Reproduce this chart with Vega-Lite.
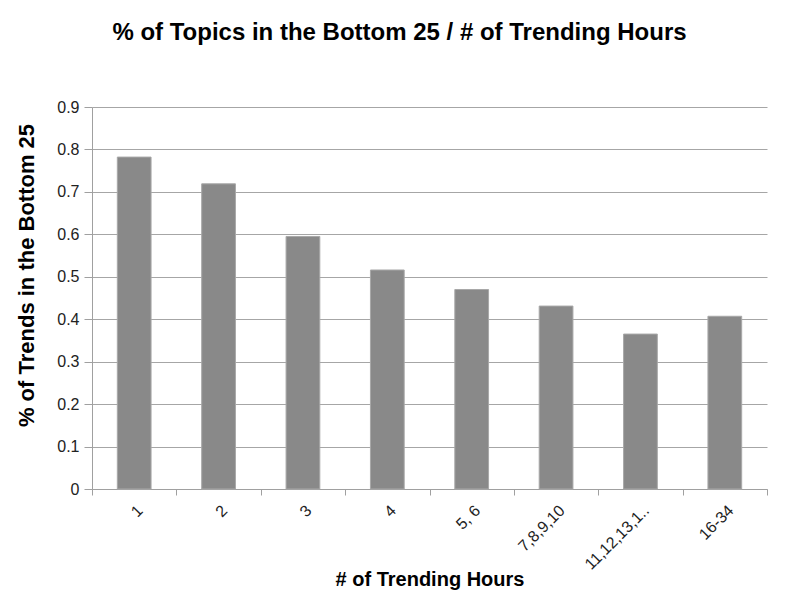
{
  "$schema": "https://vega.github.io/schema/vega-lite/v6.json",
  "autosize": "none",
  "width": 675,
  "height": 382,
  "padding": {"left": 92, "top": 107, "right": 33, "bottom": 111},
  "background": "white",
  "title": {
    "text": "% of Topics in the Bottom 25 / # of Trending Hours",
    "font": "Liberation Sans, Arial",
    "fontSize": 24,
    "fontWeight": "bold",
    "color": "#000000",
    "anchor": "middle",
    "dx": -30,
    "offset": 54
  },
  "data": {
    "values": [
      {"hours": "1", "pct": 0.782},
      {"hours": "2", "pct": 0.719},
      {"hours": "3", "pct": 0.595},
      {"hours": "4", "pct": 0.516},
      {"hours": "5, 6", "pct": 0.470},
      {"hours": "7,8,9,10", "pct": 0.431},
      {"hours": "11,12,13,1..", "pct": 0.365},
      {"hours": "16-34", "pct": 0.407}
    ]
  },
  "mark": {"type": "bar", "color": "#898989", "stroke": "#a8a8a8", "strokeWidth": 1, "width": {"band": 0.4}},
  "encoding": {
    "x": {
      "field": "hours",
      "type": "nominal",
      "sort": null,
      "scale": {"paddingInner": 0, "paddingOuter": 0},
      "axis": {
        "title": "# of Trending Hours",
        "titleFont": "Liberation Sans, Arial",
        "titleFontSize": 20,
        "titleFontWeight": "bold",
        "titleColor": "#000000",
        "titleBaseline": "alphabetic",
        "titleY": 96,
        "labelAngle": -45,
        "labelFont": "Liberation Sans, Arial",
        "labelFontSize": 16,
        "labelColor": "#222222",
        "labelPadding": 7,
        "tickBand": "extent",
        "tickColor": "#a0a0a0",
        "tickSize": 6,
        "domainColor": "#a0a0a0",
        "grid": false
      }
    },
    "y": {
      "field": "pct",
      "type": "quantitative",
      "scale": {"domain": [0, 0.9], "nice": false},
      "axis": {
        "title": "% of Trends in the Bottom 25",
        "titleFont": "Liberation Sans, Arial",
        "titleFontSize": 22,
        "titleFontWeight": "bold",
        "titleColor": "#000000",
        "titleBaseline": "alphabetic",
        "titleAlign": "center",
        "titleX": -59,
        "titleY": 168,
        "values": [0, 0.1, 0.2, 0.3, 0.4, 0.5, 0.6, 0.7, 0.8, 0.9],
        "format": ".1~f",
        "labelFont": "Liberation Sans, Arial",
        "labelFontSize": 16,
        "labelColor": "#222222",
        "labelPadding": 5,
        "tickColor": "#a0a0a0",
        "tickSize": 8,
        "domainColor": "#a0a0a0",
        "gridColor": "#a6a6a6",
        "gridWidth": 1
      }
    }
  },
  "config": {"view": {"stroke": null}}
}
